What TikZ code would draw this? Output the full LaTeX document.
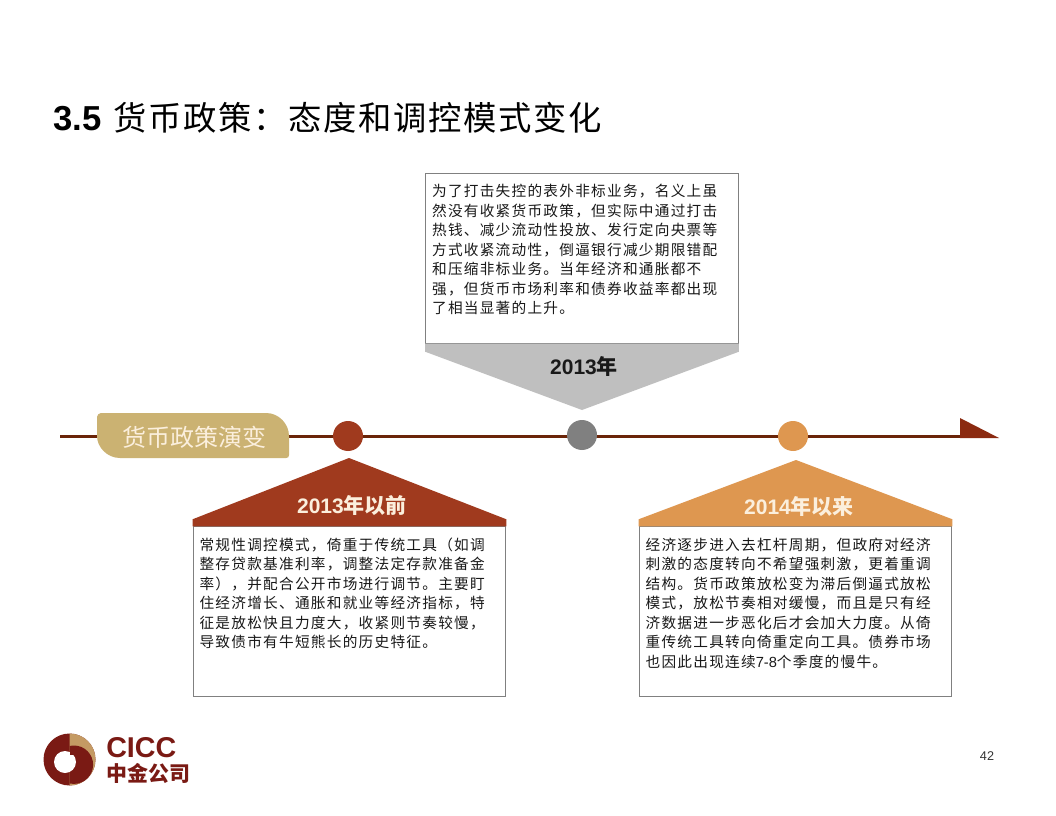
\documentclass[tikz,border=0pt]{standalone}
\usepackage{fontspec}
\setmainfont{Noto Sans CJK SC}
\newfontfamily\latinfont{Liberation Sans}
\newfontfamily\bodyfont[LetterSpace=8.5]{Noto Sans CJK SC}
\newfontfamily\titlefont[LetterSpace=5]{Noto Sans CJK SC}
\usetikzlibrary{positioning,calc}
\definecolor{axisbrown}{HTML}{6A2408}
\definecolor{tipred}{HTML}{8B2A10}
\definecolor{earlyred}{HTML}{A03A1E}
\definecolor{lateorange}{HTML}{DE9750}
\definecolor{bandtan}{HTML}{CBB272}
\definecolor{logotan}{HTML}{C49A63}
\definecolor{logored}{HTML}{7A1A14}
\definecolor{labelcream}{HTML}{FBEFDD}

\begin{document}
\begin{tikzpicture}[x=0.75pt, y=-0.75pt,
  textbox/.style={draw=black!50, line width=0.75pt, fill=white, minimum width=234.5pt, minimum height=127.5pt, inner sep=0pt},
  bodytext/.style={anchor=north west, align=left, inner sep=0pt, text=black!90, font=\bodyfont\fontsize{11pt}{14.6pt}\selectfont},
  dot/.style={circle, minimum size=22.5pt, inner sep=0pt},
  yearlbl/.style={font=\fontsize{15.75pt}{18pt}\selectfont\bfseries, inner sep=0pt}]
  \useasboundingbox (0,0) rectangle (1056,816);
  \fill[white] (0,0) rectangle (1056,816);

  % title
  \node[anchor=west, inner sep=0pt] (title) at (53,118) {{\latinfont\bfseries\fontsize{26pt}{28pt}\selectfont 3.5}\hspace{9pt}{\titlefont\fontsize{25pt}{30pt}\selectfont 货币政策：态度和调控模式变化}};

  % time axis
  \coordinate (axisstart) at (60,436.5);
  \coordinate (tipbase) at (960,436.5);
  \coordinate (tiptop) at (960,418);
  \coordinate (tipend) at (999,438);
  \coordinate (tipfoot) at (960,438);
  \draw[axisbrown, line width=2.4pt] (axisstart) -- (tipbase);
  \fill[tipred] (tiptop) -- (tipend) -- (tipfoot) -- cycle;

  \node[dot, fill=earlyred] (early) at (348,436) {};
  \node[dot, fill=black!50] (mid) at (582,435) {};
  \node[dot, fill=lateorange] (late) at (793,436) {};

  % band label
  \fill[bandtan] (101,413) -- (266,413) .. controls (279,413) and (289,424) .. (289,436) -- (289,455) .. controls (289,457) and (288,458) .. (286,458) -- (120,458) .. controls (107,458) and (97,447) .. (97,436) -- (97,417) .. controls (97,415) and (99,413) .. (101,413) -- cycle;
  \node[text=labelcream, font=\fontsize{18pt}{20pt}\selectfont, inner sep=0pt] (band) at (194,437) {货币政策演变};

  % boxes
  \node[textbox, below=56.25pt of early.south, xshift=1.1pt] (earlybox) {};
  \node[textbox, above=57pt of mid.north] (midbox) {};
  \node[textbox, below=56.25pt of late.south, xshift=1.9pt] (latebox) {};

  % roofs
  \fill[earlyred] (earlybox.north west) -- ++(0,-7) -- (349,458) -- ($(earlybox.north east)+(0,-7)$) -- (earlybox.north east) -- cycle;
  \fill[lateorange] (latebox.north west) -- ++(0,-7) -- (796,460) -- ($(latebox.north east)+(0,-7)$) -- (latebox.north east) -- cycle;
  \fill[black!25] (midbox.south west) -- ++(0,8) -- (582,410) -- ($(midbox.south east)+(0,8)$) -- (midbox.south east) -- cycle;

  \node[yearlbl, text=labelcream] (earlylbl) at (352,506) {{\latinfont\bfseries 2013}年以前};
  \node[yearlbl, text=black!90] (midlbl) at (584,366) {{\latinfont\bfseries 2013}年};
  \node[yearlbl, text=labelcream] (latelbl) at (799,507) {{\latinfont\bfseries 2014}年以来};

  % texts
  \node[bodytext, below right=8.5pt and 5pt of midbox.north west] (midtext) {为了打击失控的表外非标业务，名义上虽\\然没有收紧货币政策，但实际中通过打击\\热钱、减少流动性投放、发行定向央票等\\方式收紧流动性，倒逼银行减少期限错配\\和压缩非标业务。当年经济和通胀都不\\强，但货币市场利率和债券收益率都出现\\了相当显著的上升。};
  \node[bodytext, below right=8.5pt and 5pt of earlybox.north west] (earlytext) {常规性调控模式，倚重于传统工具（如调\\整存贷款基准利率，调整法定存款准备金\\率），并配合公开市场进行调节。主要盯\\住经济增长、通胀和就业等经济指标，特\\征是放松快且力度大，收紧则节奏较慢，\\导致债市有牛短熊长的历史特征。};
  \node[bodytext, below right=8.5pt and 5pt of latebox.north west] (latetext) {经济逐步进入去杠杆周期，但政府对经济\\刺激的态度转向不希望强刺激，更着重调\\结构。货币政策放松变为滞后倒逼式放松\\模式，放松节奏相对缓慢，而且是只有经\\济数据进一步恶化后才会加大力度。从倚\\重传统工具转向倚重定向工具。债券市场\\也因此出现连续{\latinfont 7-8}个季度的慢牛。};

  % logo
  \fill[logored] (69.5,759.5) circle (26);
  \begin{scope}
    \clip (69.5,730) rectangle (100,790);
    \fill[logotan] (69.5,759.5) circle (26);
    \fill[logored] (73.9,764.7) circle (19.2);
  \end{scope}
  \fill[white] (65,762) circle (11);
  \fill[logored] (69.5,746) rectangle (78,755);
  \node[anchor=west, inner sep=0pt, text=logored, font=\latinfont\bfseries\fontsize{21.5pt}{22pt}\selectfont] (logoname) at (106,748) {CICC};
  \node[anchor=west, inner sep=0pt, text=logored, font=\bfseries\fontsize{15.7pt}{16pt}\selectfont] (logocn) at (106,773) {中金公司};

  \node[font=\latinfont\fontsize{9.5pt}{11pt}\selectfont, text=black!80, inner sep=0pt] (pagenum) at (987,756) {42};
\end{tikzpicture}
\end{document}
